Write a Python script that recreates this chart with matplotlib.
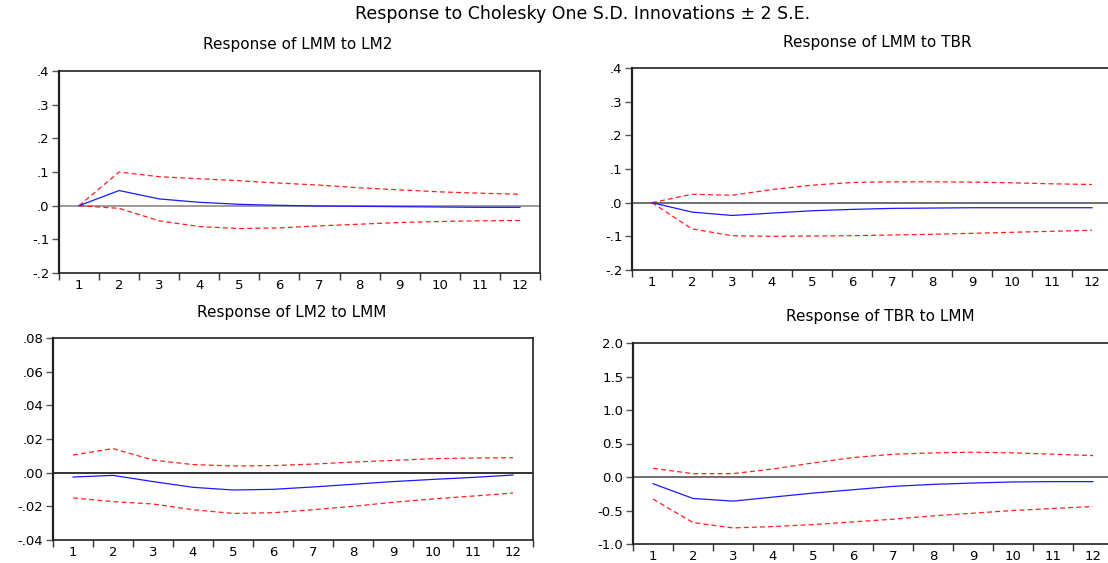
import matplotlib
matplotlib.use("Agg")
import matplotlib.pyplot as plt

plt.rcParams["font.family"] = ["DejaVu Sans"]

periods = list(range(1, 13))

# Response of LMM to LM2
lmm_lm2 = [0.0, 0.045, 0.020, 0.010, 0.004, 0.001, -0.001, -0.002, -0.003, -0.004, -0.005, -0.005]
lmm_lm2_hi = [0.0, 0.100, 0.086, 0.080, 0.074, 0.067, 0.061, 0.053, 0.047, 0.041, 0.037, 0.034]
lmm_lm2_lo = [0.0, -0.008, -0.045, -0.062, -0.068, -0.066, -0.060, -0.055, -0.050, -0.047, -0.045, -0.044]

# Response of LMM to TBR
lmm_tbr = [0.0, -0.028, -0.038, -0.031, -0.024, -0.020, -0.017, -0.016, -0.015, -0.015, -0.015, -0.015]
lmm_tbr_hi = [0.0, 0.025, 0.022, 0.039, 0.052, 0.060, 0.062, 0.062, 0.061, 0.059, 0.056, 0.054]
lmm_tbr_lo = [0.0, -0.078, -0.098, -0.100, -0.099, -0.098, -0.096, -0.094, -0.091, -0.088, -0.085, -0.082]

# Response of LM2 to LMM
lm2_lmm = [-0.0026, -0.0016, -0.0053, -0.0087, -0.0103, -0.0099, -0.0085, -0.0069, -0.0053, -0.0040, -0.0028, -0.0014]
lm2_lmm_hi = [0.0105, 0.0143, 0.0075, 0.0048, 0.0040, 0.0042, 0.0051, 0.0063, 0.0073, 0.0083, 0.0087, 0.0089]
lm2_lmm_lo = [-0.0150, -0.0172, -0.0186, -0.0220, -0.0242, -0.0238, -0.0220, -0.0200, -0.0176, -0.0156, -0.0139, -0.0121]

# Response of TBR to LMM
tbr_lmm = [-0.10, -0.32, -0.36, -0.30, -0.24, -0.19, -0.14, -0.11, -0.09, -0.074, -0.069, -0.069]
tbr_lmm_hi = [0.13, 0.05, 0.05, 0.12, 0.21, 0.29, 0.34, 0.36, 0.37, 0.36, 0.34, 0.32]
tbr_lmm_lo = [-0.33, -0.68, -0.76, -0.74, -0.71, -0.67, -0.63, -0.58, -0.54, -0.50, -0.47, -0.44]

ticks_small = [-0.2, -0.1, 0.0, 0.1, 0.2, 0.3, 0.4]
labels_small = ["-.2", "-.1", ".0", ".1", ".2", ".3", ".4"]
ticks_lm2 = [-0.04, -0.02, 0.0, 0.02, 0.04, 0.06, 0.08]
labels_lm2 = ["-.04", "-.02", ".00", ".02", ".04", ".06", ".08"]
ticks_tbr = [-1.0, -0.5, 0.0, 0.5, 1.0, 1.5, 2.0]
labels_tbr = ["-1.0", "-0.5", "0.0", "0.5", "1.0", "1.5", "2.0"]

W, H = 1108, 563
fig = plt.figure(figsize=(W / 100, H / 100), dpi=100)


def px_axes(left, top, right, bottom):
    return fig.add_axes([left / W, 1 - bottom / H, (right - left) / W, (bottom - top) / H])


panels = [
    ((59, 71, 540, 273), "Response of LMM to LM2", (298, 45),
     lmm_lm2, lmm_lm2_hi, lmm_lm2_lo, ticks_small, labels_small, "#8a8a8a"),
    ((632, 68, 1112, 270), "Response of LMM to TBR", (877, 42),
     lmm_tbr, lmm_tbr_hi, lmm_tbr_lo, ticks_small, labels_small, "#555555"),
    ((53, 338, 533, 540), "Response of LM2 to LMM", (292, 312),
     lm2_lmm, lm2_lmm_hi, lm2_lmm_lo, ticks_lm2, labels_lm2, "#111111"),
    ((633, 343, 1113, 544), "Response of TBR to LMM", (880, 316),
     tbr_lmm, tbr_lmm_hi, tbr_lmm_lo, ticks_tbr, labels_tbr, "#555555"),
]

for box, title, title_xy, mid, hi, lo, yticks, ylabels, zero_color in panels:
    ax = px_axes(*box)
    ax.axhline(0, color=zero_color, linewidth=1.2, zorder=1)
    ax.plot(periods, mid, color="#1a1aff", linewidth=0.9, zorder=3)
    ax.plot(periods, hi, color="#ff2020", linewidth=0.9, linestyle=(0, (4, 2.5)), zorder=2)
    ax.plot(periods, lo, color="#ff2020", linewidth=0.9, linestyle=(0, (4, 2.5)), zorder=2)
    ax.set_xlim(0.5, 12.5)
    ax.set_ylim(yticks[0], yticks[-1])
    ax.set_yticks(yticks)
    ax.set_yticklabels(ylabels)
    # category boundaries carry the ticks, the centres carry the labels
    ax.set_xticks([p + 0.5 for p in [0] + periods])
    ax.set_xticklabels([])
    ax.set_xticks(periods, minor=True)
    ax.set_xticklabels([str(p) for p in periods], minor=True)
    ax.tick_params(axis="x", which="major", direction="out", length=5, width=1, color="#333333")
    ax.tick_params(axis="x", which="minor", length=0, pad=4, labelsize=9.5)
    ax.tick_params(axis="y", direction="out", length=5, width=1, color="#555555", labelsize=9.5, pad=2)
    for side, spine in ax.spines.items():
        spine.set_color("#222222")
        spine.set_linewidth(1.6 if side == "left" else 1.2)
    fig.text(title_xy[0] / W, 1 - title_xy[1] / H, title, ha="center", va="center", fontsize=11)

fig.text(583 / W, 1 - 14 / H, "Response to Cholesky One S.D. Innovations \u00b1 2 S.E.",
         ha="center", va="center", fontsize=12.5)

fig.savefig("out.png", dpi=100)
